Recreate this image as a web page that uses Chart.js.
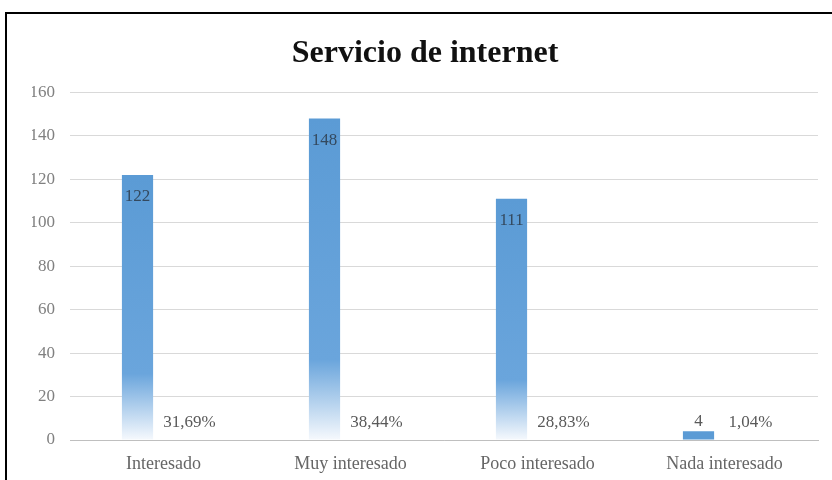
<!DOCTYPE html>
<html>
<head>
<meta charset="utf-8">
<script src="https://cdn.jsdelivr.net/npm/chart.js@4"></script>
<style>
  html, body { margin: 0; padding: 0; background: #fff; overflow: hidden; }
  #frame {
    position: absolute; left: 5px; top: 12px;
    width: 840px; height: 480px;
    border: 2px solid #000; background: #fff;
  }
  #myChart { display: block; }
</style>
</head>
<body>
<div id="frame"><canvas id="myChart" width="825" height="466"></canvas></div>
<script>
const categories = ["Interesado", "Muy interesado", "Poco interesado", "Nada interesado"];
const counts = [122, 148, 111, 4];
const percents = [31.69, 38.44, 28.83, 1.04];
const yTicks = [0, 20, 40, 60, 80, 100, 120, 140, 160];

const serif = "'Liberation Serif', 'Times New Roman', serif";
const blue = "#5b9bd5";

// gradient per bar, blue at the top fading to white at the base
function barFill(ctx) {
  const chart = ctx.chart;
  if (!chart.chartArea || ctx.raw == null) return blue;
  const y = chart.scales.y;
  const top = y.getPixelForValue(ctx.raw);
  const bottom = y.getPixelForValue(0);
  if (bottom - top < 20) return blue;
  const g = chart.ctx.createLinearGradient(0, top, 0, bottom);
  g.addColorStop(0, "#5b9bd5");
  g.addColorStop(0.75, "#6aa5dc");
  g.addColorStop(1, "#f6f9fd");
  return g;
}

const labelPlugin = {
  id: "barLabels",
  afterDatasetsDraw(chart) {
    const c = chart.ctx;
    c.save();
    c.font = "17px " + serif;
    c.textAlign = "center";
    c.textBaseline = "middle";

    chart.getDatasetMeta(0).data.forEach((bar, i) => {
      const h = bar.base - bar.y;
      if (h > 30) {
        c.fillStyle = "#34495e";
        c.fillText(String(counts[i]), bar.x, bar.y + 22);
      } else {
        c.fillStyle = "#595959";
        c.fillText(String(counts[i]), bar.x, bar.y - 10);
      }
    });

    c.fillStyle = "#595959";
    chart.getDatasetMeta(1).data.forEach((bar, i) => {
      const txt = percents[i].toFixed(2).replace(".", ",") + "%";
      c.fillText(txt, bar.x, bar.y - 17);
    });
    c.restore();
  }
};

const ctx = document.getElementById("myChart");

new Chart(ctx, {
  type: "bar",
  data: {
    labels: categories,
    datasets: [
      {
        label: "Cantidad",
        data: counts,
        backgroundColor: barFill,
        categoryPercentage: 0.556,
        barPercentage: 0.6,
      },
      {
        label: "Porcentaje",
        data: percents.map((p) => p / 100),
        backgroundColor: "rgba(0,0,0,0)",
        categoryPercentage: 0.556,
        barPercentage: 0.6,
      },
    ],
  },
  options: {
    responsive: false,
    animation: false,
    layout: { padding: { left: 25, right: 14, top: 0, bottom: 0 } },
    plugins: {
      legend: { display: false },
      tooltip: { enabled: false },
      title: {
        display: true,
        text: "Servicio de internet",
        color: "#111",
        font: { family: serif, size: 32, weight: "bold", lineHeight: 1.2 },
        padding: { top: 21, bottom: 19 },
      },
    },
    scales: {
      x: {
        grid: { display: false, drawTicks: false },
        border: { display: true, color: "#bfbfbf", width: 1 },
        ticks: {
          color: "#666",
          font: { family: serif, size: 18 },
          padding: 13,
          maxRotation: 0,
        },
        afterFit(scale) { scale.height = 40; },
      },
      y: {
        min: 0,
        max: 160,
        afterBuildTicks(scale) {
          scale.ticks = yTicks.map((v) => ({ value: v }));
        },
        grid: { color: "#d9d9d9", drawTicks: false },
        border: { display: false },
        ticks: {
          color: "#808080",
          font: { family: serif, size: 17 },
          padding: 15,
        },
        afterFit(scale) { scale.width = 38; },
      },
    },
  },
  plugins: [labelPlugin],
});
</script>
</body>
</html>
